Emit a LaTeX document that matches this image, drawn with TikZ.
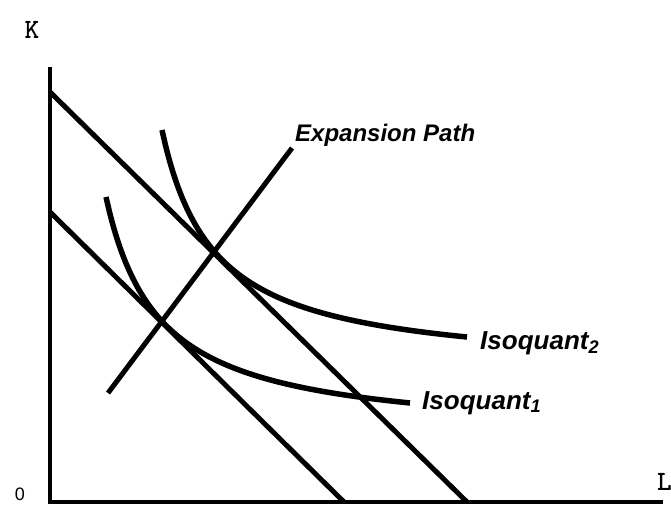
\documentclass[tikz,border=0pt]{standalone}
\usepackage{fontspec}
\setmainfont{Liberation Sans}
\usepackage{tikz}
\usetikzlibrary{positioning}
\tikzset{
    axis_line/.style={
        draw=black, line width=3.2pt
    },
    cost_line/.style={
        draw=black, line width=5pt
    },
    quant_curve/.style={
        draw=black, line width=5.5pt, smooth
    },
    path_lbl/.style={
        font=\bfseries\itshape\fontsize{24}{24}\selectfont, inner sep=0pt, anchor=base west
    },
    quant_lbl/.style={
        font=\bfseries\itshape\fontsize{26}{26}\selectfont, inner sep=0pt, anchor=base west
    },
    axis_lbl/.style={
        font=\ttfamily\bfseries\fontsize{28}{28}\selectfont, inner sep=0pt
    }
}

\begin{document}
\begin{tikzpicture}[x=1pt, y=-1pt]

    \path[use as bounding box, fill=white] (0,0) rectangle (671,508);

    \coordinate (k_top) at (50,67);
    \coordinate (origin) at (50,502);
    \coordinate (l_end) at (663,502);
    \draw[axis_line] (k_top) -- (origin) -- (l_end);

    \node[axis_lbl] (k_lbl) at (32,30) {K};
    \node[axis_lbl, anchor=east, font=\fontsize{18}{18}\selectfont] (o_lbl) at (25,494) {0};
    \node[axis_lbl, anchor=east] (l_lbl) at (672,482) {L};

    \coordinate (c1_k) at (50,212);
    \coordinate (c1_l) at (344,502);
    \coordinate (c2_k) at (50,92);
    \coordinate (c2_l) at (467,502);
    \draw[cost_line] (c1_k) -- (c1_l);
    \draw[cost_line] (c2_k) -- (c2_l);

    \coordinate (ep_lo) at (108,393);
    \coordinate (ep_hi) at (292,148);
    \draw[cost_line] (ep_lo) -- (ep_hi);
    \node[path_lbl] (ep_lbl) at (295,141) {Expansion Path};

    \draw[quant_curve] plot[domain=106:410, samples=80] (\x, {438.9-12821/(\x-53)});
    \draw[quant_curve] plot[domain=162:467, samples=80] (\x, {372.3-12599/(\x-110)});

    \node[quant_lbl] (q1_lbl) at (422,409) {Isoquant\textsubscript{1}};
    \node[quant_lbl] (q2_lbl) at (480,349) {Isoquant\textsubscript{2}};

\end{tikzpicture}
\end{document}
